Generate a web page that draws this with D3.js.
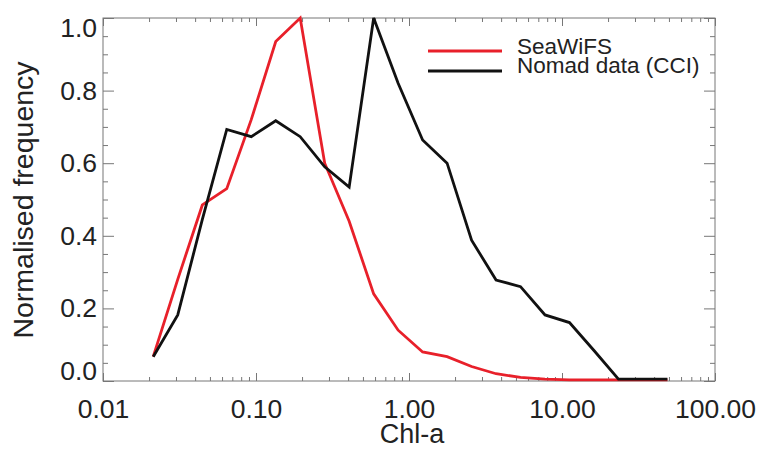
<!DOCTYPE html>
<html>
<head>
<meta charset="utf-8">
<script src="https://cdn.jsdelivr.net/npm/d3@7"></script>
<style>
body { margin: 0; background: #fff; }
text { font-family: "Liberation Sans", Arial, Helvetica, sans-serif; fill: #222; }
</style>
</head>
<body>
<svg id="svg"></svg>
<script>
var width = 760, height = 450;
var svg = d3.select("#svg")
	.attr("width", width)
	.attr("height", height);

// bin centres of Chl-a (mg m-3), log spaced
var chl = [0.0213, 0.0308, 0.0446, 0.0644, 0.0931, 0.1346, 0.1945, 0.2812, 0.4064, 0.5875, 0.8492,
	1.2274, 1.7742, 2.5645, 3.7068, 5.358, 7.745, 11.19, 16.18, 23.39, 33.81, 48.87];
var seawifs = [0.067, 0.28, 0.485, 0.53, 0.72, 0.935, 1.0, 0.60, 0.44, 0.24, 0.14,
	0.08, 0.067, 0.04, 0.02, 0.01, 0.005, 0.003, 0.003, 0.003, 0.003, 0.003];
var nomad = [0.067, 0.182, 0.445, 0.693, 0.673, 0.717, 0.673, 0.59, 0.534, 1.0, 0.82,
	0.664, 0.60, 0.388, 0.278, 0.26, 0.182, 0.161, 0.084, 0.005, 0.005, 0.005];
var seriesNames = ["SeaWiFS", "Nomad data (CCI)"];
var seriesColors = ["#e8202a", "#111111"];
var xMajor = [0.01, 0.1, 1, 10, 100];
var yMajor = [0, 0.2, 0.4, 0.6, 0.8, 1.0];

var pLeft = 103, pRight = 715, pTop = 18, pBottom = 381;

var x = d3.scaleLog().domain([0.01, 100]).range([pLeft, pRight]);
var y = d3.scaleLinear().domain([0, 1]).range([pBottom, pTop]);

var xMinor = [];
xMajor.slice(0, -1).forEach(function(d) {
	for (var k = 2; k <= 9; k++) xMinor.push(d * k);
});
var yMinor = d3.range(0, 1.0001, 0.05).filter(function(d) { return Math.abs(d * 5 - Math.round(d * 5)) > 1e-6; });

var axisColor = "#777";

function styleAxis(g) {
	g.select(".domain").remove();
	g.selectAll(".tick line").attr("stroke", axisColor);
}

// frame
svg.append("rect")
	.attr("x", pLeft).attr("y", pTop)
	.attr("width", pRight - pLeft).attr("height", pBottom - pTop)
	.attr("fill", "none").attr("stroke", axisColor).attr("stroke-width", 1);

// x axes (bottom labelled, top only ticks)
svg.append("g").attr("transform", "translate(0," + pBottom + ")")
	.call(d3.axisBottom(x).tickValues(xMinor).tickSize(-4).tickFormat(""))
	.call(styleAxis);
svg.append("g").attr("transform", "translate(0," + pTop + ")")
	.call(d3.axisTop(x).tickValues(xMinor).tickSize(-4).tickFormat(""))
	.call(styleAxis);
svg.append("g").attr("transform", "translate(0," + pTop + ")")
	.call(d3.axisTop(x).tickValues(xMajor).tickSize(-8).tickFormat(""))
	.call(styleAxis);
var xAxis = svg.append("g").attr("transform", "translate(0," + pBottom + ")")
	.call(d3.axisBottom(x).tickValues(xMajor).tickSize(-8).tickPadding(18.5).tickFormat(d3.format(".2f")))
	.call(styleAxis);
xAxis.selectAll("text").style("font-size", "26.5px").attr("fill", "#222");

// y axes
svg.append("g").attr("transform", "translate(" + pLeft + ",0)")
	.call(d3.axisLeft(y).tickValues(yMinor).tickSize(-5).tickFormat(""))
	.call(styleAxis);
svg.append("g").attr("transform", "translate(" + pRight + ",0)")
	.call(d3.axisRight(y).tickValues(yMinor).tickSize(-5).tickFormat(""))
	.call(styleAxis);
svg.append("g").attr("transform", "translate(" + pRight + ",0)")
	.call(d3.axisRight(y).tickValues(yMajor).tickSize(-11).tickFormat(""))
	.call(styleAxis);
var yAxis = svg.append("g").attr("transform", "translate(" + pLeft + ",0)")
	.call(d3.axisLeft(y).tickValues(yMajor).tickSize(-11).tickPadding(6).tickFormat(d3.format(".1f")))
	.call(styleAxis);
yAxis.selectAll("text").style("font-size", "26.5px").attr("fill", "#222");
// end labels kept inside the axis extent
yAxis.selectAll(".tick").filter(function(d) { return d === 0; }).select("text").attr("dy", "-0.05em");
yAxis.selectAll(".tick").filter(function(d) { return d === 1; }).select("text").attr("dy", "0.68em");

// lines
var line = d3.line()
	.x(function(d) { return x(d[0]); })
	.y(function(d) { return y(d[1]); });

[seawifs, nomad].forEach(function(vals, i) {
	svg.append("path")
		.datum(chl.map(function(c, j) { return [c, vals[j]]; }))
		.attr("d", line)
		.attr("fill", "none")
		.attr("stroke", seriesColors[i])
		.attr("stroke-width", 2.8)
		.attr("stroke-linejoin", "miter");
});

// legend
var legend = svg.append("g").attr("class", "legend");
seriesNames.forEach(function(name, i) {
	var ly = 51 + i * 20;
	legend.append("line")
		.attr("x1", 428).attr("x2", 502)
		.attr("y1", ly).attr("y2", ly)
		.attr("stroke", seriesColors[i])
		.attr("stroke-width", 3);
	legend.append("text")
		.attr("x", 517).attr("y", ly + 3 - i * 1)
		.attr("font-size", "22.5px")
		.text(name);
});

// axis titles
svg.append("text")
	.attr("x", (pLeft + pRight) / 2 + 3).attr("y", 443)
	.attr("text-anchor", "middle")
	.attr("font-size", "27px")
	.text("Chl-a");

svg.append("text")
	.attr("transform", "translate(33," + 200 + ") rotate(-90)")
	.attr("text-anchor", "middle")
	.attr("font-size", "28.5px")
	.text("Normalised frequency");
</script>
</body>
</html>
